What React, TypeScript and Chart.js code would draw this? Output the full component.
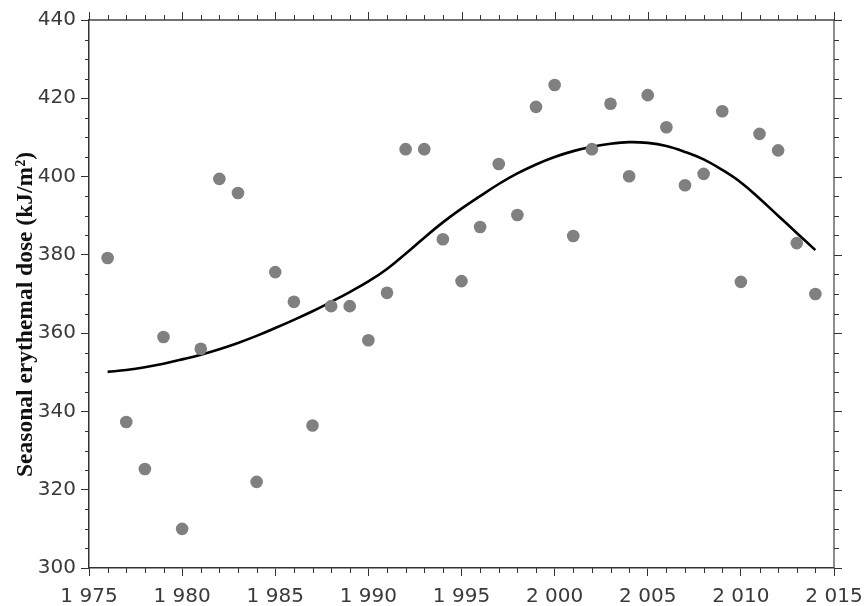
import React, { useEffect, useRef } from 'react';
import { Chart, registerables } from 'chart.js';

Chart.register(...registerables);

const years = [
  1976, 1977, 1978, 1979, 1980, 1981, 1982, 1983, 1984, 1985,
  1986, 1987, 1988, 1989, 1990, 1991, 1992, 1993, 1994, 1995,
  1996, 1997, 1998, 1999, 2000, 2001, 2002, 2003, 2004, 2005,
  2006, 2007, 2008, 2009, 2010, 2011, 2012, 2013, 2014,
];

const doses = [
  379.2, 337.3, 325.3, 359.0, 310.0, 356.0, 399.4, 395.8, 322.0, 375.6,
  368.0, 336.4, 366.9, 366.9, 358.2, 370.3, 407.0, 407.0, 384.0, 373.3,
  387.1, 403.2, 390.2, 417.8, 423.4, 384.8, 407.0, 418.6, 400.1, 420.8,
  412.6, 397.8, 400.7, 416.7, 373.1, 410.9, 406.7, 383.0, 370.0,
];

const trend = [
  350.1, 350.6, 351.3, 352.2, 353.3, 354.5, 355.9, 357.5, 359.3, 361.3,
  363.4, 365.6, 368.0, 370.5, 373.2, 376.4, 380.3, 384.4, 388.3, 391.8,
  395.0, 398.1, 400.8, 403.1, 405.0, 406.5, 407.6, 408.4, 408.8, 408.6,
  407.8, 406.3, 404.4, 401.7, 398.5, 394.4, 390.0, 385.6, 381.2,
];

const xTickValues = [1975, 1980, 1985, 1990, 1995, 2000, 2005, 2010, 2015];
const xTickLabels = ['1 975', '1 980', '1 985', '1 990', '1 995', '2 000', '2 005', '2 010', '2 015'];
const yTickValues = [300, 320, 340, 360, 380, 400, 420, 440];
const yTickLabels = ['300', '320', '340', '360', '380', '400', '420', '440'];
const yTitle = 'Seasonal erythemal dose (kJ/m²)';

const X_MIN = 1975;
const X_MAX = 2015;
const Y_MIN = 300;
const Y_MAX = 440;

const framePlugin = {
  id: 'framePlugin',
  afterDraw(chart: any) {
    const ctx = chart.ctx;
    const { left, right, top, bottom } = chart.chartArea;
    const xs = chart.scales.x;
    const ys = chart.scales.y;
    ctx.save();
    ctx.strokeStyle = '#444';
    ctx.lineWidth = 1.5;
    ctx.beginPath();
    ctx.moveTo(left, top);
    ctx.lineTo(right, top);
    ctx.stroke();
    ctx.strokeStyle = '#666';
    ctx.beginPath();
    ctx.moveTo(right, top);
    ctx.lineTo(right, bottom);
    ctx.stroke();

    ctx.lineWidth = 1;
    ctx.strokeStyle = '#333';
    for (let v = X_MIN; v <= X_MAX; v++) {
      const px = Math.round(xs.getPixelForValue(v)) + 0.5;
      const major = v % 5 === 0;
      ctx.beginPath();
      if (!major) {
        ctx.moveTo(px, bottom);
        ctx.lineTo(px, bottom + 5);
      }
      ctx.moveTo(px, top);
      ctx.lineTo(px, top - (major ? 8 : 5));
      ctx.stroke();
    }
    for (let v = Y_MIN; v <= Y_MAX; v += 5) {
      const py = Math.round(ys.getPixelForValue(v)) + 0.5;
      const major = v % 20 === 0;
      ctx.beginPath();
      if (!major) {
        ctx.moveTo(left, py);
        ctx.lineTo(left - 4, py);
      }
      ctx.moveTo(right, py);
      ctx.lineTo(right + (major ? 8 : 5), py);
      ctx.stroke();
    }

    ctx.font = 'bold 24px "Liberation Serif", "Times New Roman", serif';
    ctx.fillStyle = '#111';
    ctx.textAlign = 'center';
    ctx.textBaseline = 'alphabetic';
    const w = ctx.measureText(yTitle).width;
    const target = 325;
    ctx.translate(32, 314.5);
    ctx.rotate(-Math.PI / 2);
    ctx.scale(target / w, 1);
    ctx.fillText(yTitle, 0, 0);
    ctx.restore();
  },
};

export default function App() {
  const canvasRef = useRef<HTMLCanvasElement | null>(null);

  useEffect(() => {
    document.body.style.margin = '0';
    const canvas = canvasRef.current;
    if (!canvas) return;

    const chart = new Chart(canvas, {
      type: 'scatter',
      data: {
        datasets: [
          {
            type: 'scatter',
            label: 'Dose',
            data: years.map((y, i) => ({ x: y, y: doses[i] })),
            backgroundColor: '#808080',
            borderWidth: 0,
            pointRadius: 6.3,
            pointHoverRadius: 6.3,
          },
          {
            type: 'line',
            label: 'Trend',
            data: years.map((y, i) => ({ x: y, y: trend[i] })),
            borderColor: '#000',
            borderWidth: 2.6,
            pointRadius: 0,
            fill: false,
            tension: 0.4,
          },
        ],
      },
      options: {
        animation: false,
        responsive: false,
        maintainAspectRatio: false,
        layout: { padding: { top: 20, right: 31, left: 0, bottom: 0 } },
        plugins: {
          legend: { display: false },
          tooltip: { enabled: false },
          title: { display: false },
        },
        scales: {
          x: {
            type: 'linear',
            position: 'bottom',
            min: X_MIN,
            max: X_MAX,
            afterBuildTicks: (s: any) => {
              s.ticks = xTickValues.map((v) => ({ value: v }));
            },
            afterFit: (s: any) => {
              s.height = 38;
              s.paddingLeft = 0;
              s.paddingRight = 0;
            },
            ticks: {
              autoSkip: false,
              maxRotation: 0,
              minRotation: 0,
              padding: 9,
              color: '#3a3a3a',
              font: { family: '"DejaVu Sans", sans-serif', size: 20 },
              callback: (v: any) => {
                const i = xTickValues.indexOf(Number(v));
                return i >= 0 ? xTickLabels[i] : '';
              },
            },
            grid: {
              drawOnChartArea: false,
              drawTicks: true,
              tickLength: 8,
              color: '#333',
              lineWidth: 1,
            },
            border: { display: true, color: '#333', width: 1.5 },
          },
          y: {
            type: 'linear',
            position: 'left',
            min: Y_MIN,
            max: Y_MAX,
            afterBuildTicks: (s: any) => {
              s.ticks = yTickValues.map((v) => ({ value: v }));
            },
            afterFit: (s: any) => {
              s.width = 89;
              s.paddingTop = 0;
              s.paddingBottom = 0;
            },
            ticks: {
              autoSkip: false,
              padding: 5,
              color: '#3a3a3a',
              font: { family: '"DejaVu Sans", sans-serif', size: 20 },
              callback: (v: any) => {
                const i = yTickValues.indexOf(Number(v));
                return i >= 0 ? yTickLabels[i] : '';
              },
            },
            grid: {
              drawOnChartArea: false,
              drawTicks: true,
              tickLength: 8,
              color: '#333',
              lineWidth: 1,
            },
            border: { display: true, color: '#333', width: 1.5 },
          },
        },
      },
      plugins: [framePlugin],
    } as any);

    return () => {
      chart.destroy();
    };
  }, []);

  return (
    <div style={{ width: 865, height: 606, background: '#fff' }}>
      <canvas ref={canvasRef} width={865} height={606} style={{ display: 'block' }} />
    </div>
  );
}
